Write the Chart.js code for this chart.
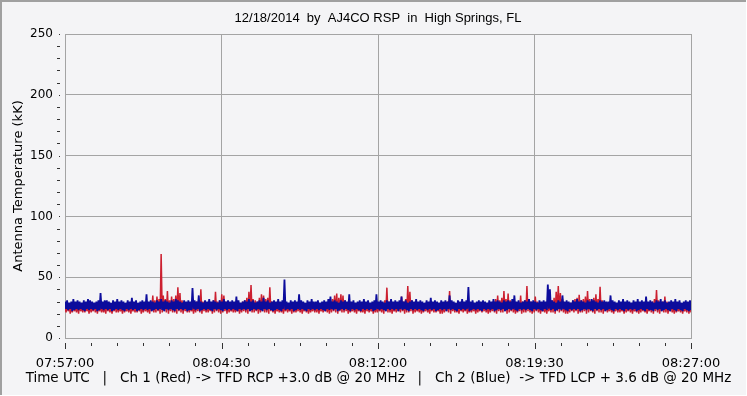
<!DOCTYPE html>
<html>
<head>
<meta charset="utf-8">
<script src="https://cdn.jsdelivr.net/npm/chart.js@4/dist/chart.umd.min.js"></script>
<style>
html,body{margin:0;padding:0;background:#f4f4f6;}
canvas{display:block;}
</style>
</head>
<body>
<canvas id="c" width="747" height="396"></canvas>
<script>
// ---- Data (Antenna temperature, kK) ----
// Each interval (~6 s) holds a high and a low reading of the noisy trace.
const xTickLabels = ['07:57:00','08:04:30','08:12:00','08:19:30','08:27:00'];
const yTickLabels = [0, 50, 100, 150, 200, 250];

const blueHigh = [
 30,31,29,30,32,30,31,30,29,31,30,32,31,30,29,30,31,37,30,31,
 31,30,29,31,30,32,30,31,30,29,31,30,33,30,31,29,30,31,30,36,
 30,31,30,29,31,30,32,30,31,30,29,31,30,32,31,30,29,31,30,31,
 30,41,31,30,35,30,29,31,30,32,30,31,30,29,31,30,32,30,31,30,
 31,30,34,31,29,30,31,30,32,30,31,29,30,31,30,33,30,31,29,30,
 31,30,32,30,31,48,30,29,31,30,31,30,36,31,30,29,31,30,32,30,
 30,31,29,30,31,30,32,34,30,31,30,29,31,30,31,30,36,30,31,29,
 30,31,30,32,30,31,29,30,31,36,30,31,30,29,31,30,32,30,31,30,
 31,34,30,31,29,30,31,30,32,30,31,30,29,31,30,33,30,31,30,29,
 31,30,31,30,35,31,30,29,31,30,32,30,31,42,30,31,29,30,31,30,
 31,30,29,31,30,32,30,31,30,29,31,30,31,30,32,35,30,31,29,30,
 31,30,32,30,31,30,29,31,30,31,30,44,40,31,30,29,31,30,35,30,
 31,30,29,31,30,32,30,31,30,29,31,30,32,31,30,29,31,30,31,30,
 30,35,31,30,29,31,30,32,30,31,30,29,31,30,32,30,31,30,34,30,
 31,30,29,31,30,32,30,31,29,30,31,30,32,30,31,29,30,31,30,31
];
const blueLow = [
 24,23,24,22,23,24,23,24,23,22,24,23,24,23,24,22,23,24,23,24,
 23,24,22,23,24,23,24,23,22,24,23,24,23,24,22,23,24,23,24,23,
 24,22,23,24,23,24,23,22,24,23,24,23,22,24,23,24,23,24,22,23,
 23,24,23,24,22,23,24,23,24,23,22,24,23,24,23,22,24,23,24,23,
 24,23,22,24,23,24,23,24,22,23,24,23,24,23,22,24,23,24,23,22,
 23,24,23,22,24,23,24,23,24,22,23,24,23,24,23,22,24,23,24,23,
 24,23,24,23,22,24,23,24,23,24,22,23,24,23,24,23,22,24,23,24,
 23,22,24,23,24,23,24,22,23,24,23,24,23,22,24,23,24,23,24,22,
 24,23,24,23,22,24,23,24,23,24,23,22,24,23,24,23,24,22,23,24,
 23,24,22,24,23,24,23,22,24,23,24,23,24,22,23,24,23,24,23,22,
 24,23,24,23,24,22,23,24,23,24,22,23,24,23,24,23,22,24,23,24,
 23,24,23,22,24,23,24,23,22,24,23,24,23,24,22,23,24,23,24,23,
 22,24,23,24,23,24,22,23,24,23,24,23,22,24,23,24,23,24,22,23,
 24,23,22,24,23,24,23,22,24,23,24,23,24,22,23,24,23,22,24,23,
 23,22,24,23,24,22,23,24,23,22,24,23,22,24,23,22,24,23,22,23
];
const redHigh = [
 27,28,27,26,28,27,27,28,26,27,28,27,27,26,28,27,28,27,26,27,
 28,27,26,27,28,27,27,26,28,27,27,28,26,27,27,28,27,26,28,27,
 27,30,35,31,34,32,69,35,32,38.6,31,34,32,35,41.7,37,31,30,28,27,
 28,27,28,30,31,40,30,28,27,28,29,31,38,30,31,36,35,30,28,27,
 27,28,26,27,28,30,31,33,38,43.6,32,31,30,33,36,35,32,33,41.7,30,
 28,27,26,28,27,27,28,26,27,28,27,27,28,26,27,28,27,27,26,28,
 27,28,27,26,28,27,28,30,32,35,36.5,33,36,35,31,28,27,26,28,27,
 28,27,26,27,28,27,27,26,28,27,28,27,29,31,41.4,30,28,27,26,28,
 27,34,30,32,42.8,38,31,28,27,26,28,27,27,28,26,27,28,27,27,26,
 28,27,28,30,38.7,30,28,27,26,28,27,27,28,26,27,28,27,27,26,28,
 27,28,26,27,28,30,32,35,31,33,38.7,32,36.5,31,30,28,27,29,35,30,
 31,42.8,32,30,29,34,30,28,27,26,28,27,29,31,33,38,42.8,37,32,29,
 28,27,29,31,32,33,35.5,31,32,34,38.7,32,31,33,36,32,42.2,31,29,28,
 27,28,26,27,28,27,27,26,28,27,28,27,27,26,28,27,28,27,26,27,
 28,30,32,39.5,31,29,30,34,30,28,27,26,28,27,27,28,26,27,28,27
];
const redLow = [
 21,22,20,21,22,21,20,22,21,21,22,20,21,22,21,20,22,21,21,20,
 22,21,20,22,21,21,22,20,21,22,21,20,22,21,21,22,20,21,22,21,
 20,22,21,21,22,20,21,22,21,20,22,21,21,20,22,21,20,22,21,21,
 22,20,21,22,21,20,22,21,21,22,20,21,22,21,20,21,22,20,21,22,
 21,21,22,20,21,22,21,20,22,21,21,22,20,21,22,21,21,20,22,21,
 20,22,21,21,20,22,21,22,20,21,21,22,21,20,22,21,20,21,22,21,
 21,20,22,21,22,21,20,21,22,21,20,22,21,21,22,20,21,22,21,20,
 22,21,21,20,22,21,22,20,21,21,22,21,20,22,21,21,20,22,21,22,
 21,22,20,21,21,22,20,21,22,21,20,21,22,21,20,22,21,21,22,20,
 20,21,22,21,20,22,21,21,20,22,21,22,20,21,21,22,20,21,22,21,
 22,21,20,21,22,21,20,22,21,21,22,20,21,22,21,20,21,22,20,21,
 21,22,21,20,21,22,21,20,22,21,20,22,21,21,20,22,21,22,21,20,
 20,21,22,21,22,20,21,21,22,20,21,22,21,20,22,21,21,20,22,21,
 22,21,20,22,21,21,22,20,21,22,21,20,22,21,20,21,22,21,20,22,
 21,20,22,21,20,22,21,21,20,22,21,20,21,22,21,20,22,21,20,21
];

const SPAN_SECONDS = 1800;    // 07:57:00 -> 08:27:00
const MAJOR_STEP = 450;       // labelled ticks
const MINOR_STEP = 75;

function toPoints(high, low) {
  const vals = [];
  high.forEach((h, i) => { vals.push(h); vals.push(low[i]); });
  const n = vals.length;
  return vals.map((v, k) => ({ x: k * SPAN_SECONDS / (n - 1), y: v }));
}

const GRID = '#a4a4a4';
const BG = '#f4f4f6';

const framePlugin = {
  id: 'frame',
  beforeDraw(chart) {
    const ctx = chart.ctx;
    ctx.save();
    ctx.fillStyle = BG;
    ctx.fillRect(0, 0, chart.width, chart.height);
    ctx.fillStyle = '#a0a0a0';
    ctx.fillRect(0, 0, chart.width, 2);
    ctx.fillRect(0, 0, 2, chart.height);
    ctx.fillStyle = '#ffffff';
    ctx.fillRect(0, chart.height - 1, chart.width, 1);
    ctx.fillRect(chart.width - 1, 0, 1, chart.height);
    ctx.restore();
  },
  afterDraw(chart) {
    const ctx = chart.ctx;
    const xs = chart.scales.x, ys = chart.scales.y;
    const area = chart.chartArea;
    ctx.save();
    ctx.fillStyle = '#333333';
    xs.ticks.forEach(t => {
      const px = Math.round(xs.getPixelForValue(t.value));
      const major = t.value % MAJOR_STEP === 0;
      ctx.fillRect(px, area.bottom + 5, 1, major ? 6 : 3);
    });
    ys.ticks.forEach(t => {
      const py = Math.round(ys.getPixelForValue(t.value));
      const major = t.value % 50 === 0;
      if (major) ctx.fillRect(area.left - 6, py, 1, 1);
      else ctx.fillRect(area.left - 8, py, 3, 1);
    });
    ctx.restore();
  }
};

new Chart(document.getElementById('c'), {
  type: 'line',
  data: {
    datasets: [
      { label: 'Ch 2 (Blue)', data: toPoints(blueHigh, blueLow), borderColor: '#0c0c9c', borderWidth: 1.8, borderJoinStyle: 'bevel', pointRadius: 0, tension: 0 },
      { label: 'Ch 1 (Red)',  data: toPoints(redHigh, redLow),  borderColor: '#cc2030', borderWidth: 1.5, borderJoinStyle: 'bevel', pointRadius: 0, tension: 0 }
    ]
  },
  plugins: [framePlugin],
  options: {
    responsive: false,
    animation: false,
    parsing: false,
    normalized: true,
    layout: { padding: { left: 10, right: 0, top: 0, bottom: 0 } },
    plugins: {
      legend: { display: false },
      tooltip: { enabled: false },
      title: {
        display: true,
        fullSize: false,
        text: '12/18/2014  by  AJ4CO RSP  in  High Springs, FL',
        color: '#000',
        font: { family: '"Liberation Sans", Arial, sans-serif', size: 13, weight: 'normal', lineHeight: 1.2 },
        padding: { top: 10.4, bottom: 8.0 }
      },
      subtitle: {
        display: true,
        position: 'bottom',
        text: 'Time UTC   |   Ch 1 (Red) -> TFD RCP +3.0 dB @ 20 MHz   |   Ch 2 (Blue)  -> TFD LCP + 3.6 dB @ 20 MHz',
        color: '#000',
        font: { family: '"DejaVu Sans", Verdana, sans-serif', size: 13.5, weight: 'normal', lineHeight: 1.2 },
        padding: { top: 0, bottom: 9.9 }
      }
    },
    scales: {
      x: {
        type: 'linear',
        min: 0, max: SPAN_SECONDS,
        afterFit(s) { s.height = 31.9; },
        afterBuildTicks(s) {
          const t = [];
          for (let v = 0; v <= SPAN_SECONDS; v += MINOR_STEP) t.push({ value: v });
          s.ticks = t;
        },
        ticks: {
          autoSkip: false, maxRotation: 0, minRotation: 0,
          padding: 18,
          color: '#000',
          font: { family: '"DejaVu Sans", Verdana, sans-serif', size: 13 },
          callback(v) { return v % MAJOR_STEP === 0 ? xTickLabels[v / MAJOR_STEP] : ''; }
        },
        grid: {
          drawTicks: false,
          color: c => (c.tick && c.tick.value % MAJOR_STEP === 0) ? GRID : 'rgba(0,0,0,0)',
          lineWidth: 1
        },
        border: { display: true, color: GRID }
      },
      y: {
        min: 0, max: 250,
        afterFit(s) { s.width = 55; },
        afterBuildTicks(s) {
          const t = [];
          for (let v = 0; v <= 250; v += 10) t.push({ value: v });
          s.ticks = t;
        },
        ticks: {
          autoSkip: false,
          padding: 12,
          color: '#000',
          font: { family: '"DejaVu Sans", Verdana, sans-serif', size: 12 },
          callback(v) { return v % 50 === 0 ? String(yTickLabels[v / 50]) : ''; }
        },
        grid: {
          drawTicks: false,
          color: c => (c.tick && c.tick.value % 50 === 0) ? GRID : 'rgba(0,0,0,0)',
          lineWidth: 1
        },
        border: { display: true, color: GRID },
        title: {
          display: true,
          text: 'Antenna Temperature (kK)',
          color: '#000',
          font: { family: '"DejaVu Sans", Verdana, sans-serif', size: 13, lineHeight: 1.2 },
          padding: { top: 1.0, bottom: 0 }
        }
      },
      y2: {
        position: 'right',
        display: true,
        afterFit(s) { s.width = 56; },
        grid: { display: false, drawTicks: false },
        border: { display: false },
        ticks: { display: false }
      }
    }
  }
});
</script>
</body>
</html>
